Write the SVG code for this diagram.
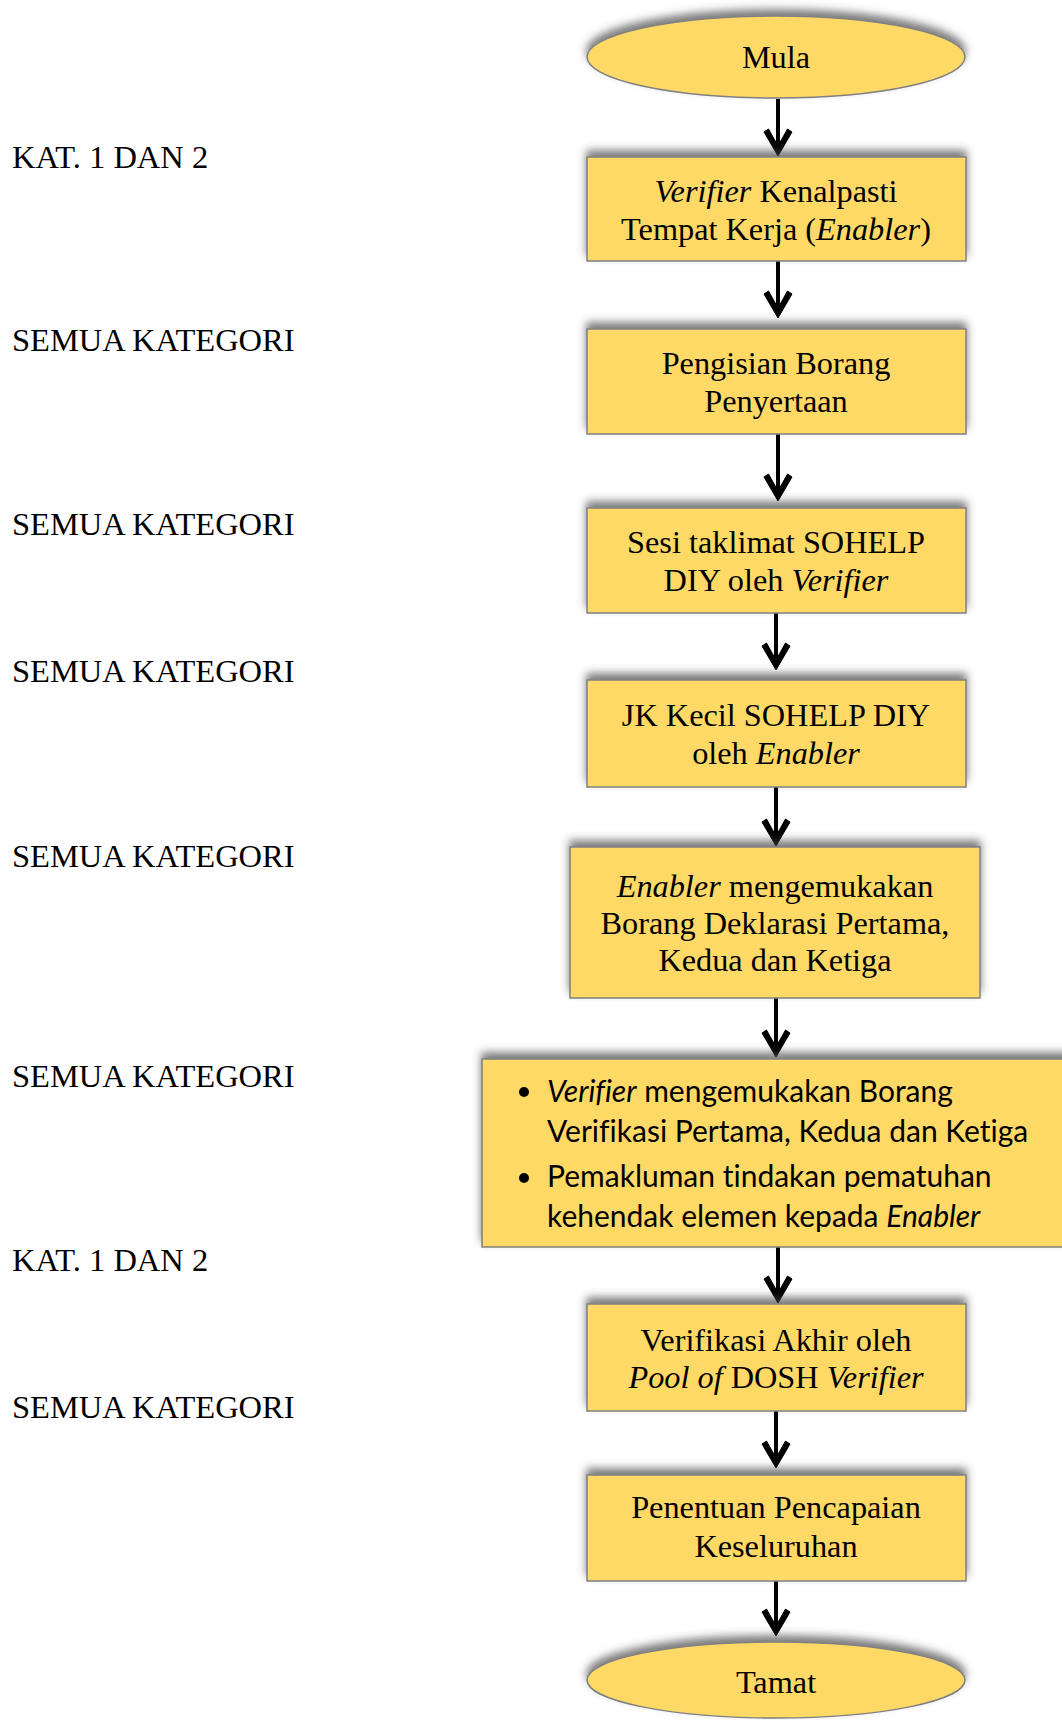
<svg xmlns="http://www.w3.org/2000/svg" width="1062" height="1720" viewBox="0 0 1062 1720">
<style>
.box{fill:#FFD966;stroke:#808080;stroke-width:1.5;filter:url(#sh)}
.t{font-family:"Liberation Serif","Times New Roman",serif;font-size:32.3px;fill:#000;text-anchor:middle;font-variant-ligatures:none}
.lbl{font-family:"Liberation Serif","Times New Roman",serif;font-size:32.5px;fill:#000}
.s{font-family:Lato,"Open Sans",sans-serif;font-size:30px;fill:#000;font-variant-ligatures:none}
.i{font-style:italic}
.c{stroke:#000;stroke-width:4;fill:none;marker-end:url(#ah)}
</style>
<defs>
<filter id="sh" x="-10%" y="-30%" width="120%" height="160%">
<feGaussianBlur in="SourceAlpha" stdDeviation="4"/>
<feOffset dx="0" dy="-6" result="b"/>
<feFlood flood-color="#404040" flood-opacity="0.7"/>
<feComposite in2="b" operator="in"/>
<feMerge><feMergeNode/><feMergeNode in="SourceGraphic"/></feMerge>
</filter>
<marker id="ah" markerUnits="userSpaceOnUse" markerWidth="40" markerHeight="40" refX="0" refY="0" orient="auto" overflow="visible">
<path d="M6,0 L-18,-14 L-21,-9.5 L-4,0 L-21,9.5 L-18,14 Z" fill="#000" stroke="#000" stroke-width="1" stroke-linejoin="round"/>
</marker>
</defs>
<rect width="1062" height="1720" fill="#fff"/>

<g id="labels">
<text class="lbl" x="12" y="168">KAT. 1 DAN 2</text>
<text class="lbl" x="12" y="351">SEMUA KATEGORI</text>
<text class="lbl" x="12" y="535">SEMUA KATEGORI</text>
<text class="lbl" x="12" y="682">SEMUA KATEGORI</text>
<text class="lbl" x="12" y="867">SEMUA KATEGORI</text>
<text class="lbl" x="12" y="1087">SEMUA KATEGORI</text>
<text class="lbl" x="12" y="1271">KAT. 1 DAN 2</text>
<text class="lbl" x="12" y="1418">SEMUA KATEGORI</text>
</g>

<g id="connectors">
<line class="c" x1="778" y1="99" x2="778" y2="150"/>
<line class="c" x1="778" y1="261" x2="778" y2="312"/>
<line class="c" x1="778" y1="434" x2="778" y2="495"/>
<line class="c" x1="776" y1="613" x2="776" y2="664"/>
<line class="c" x1="776" y1="787" x2="776" y2="840"/>
<line class="c" x1="776" y1="998" x2="776" y2="1051"/>
<line class="c" x1="778" y1="1247" x2="778" y2="1297"/>
<line class="c" x1="776" y1="1411" x2="776" y2="1462"/>
<line class="c" x1="776" y1="1581" x2="776" y2="1630"/>
</g>

<g id="mula">
<ellipse class="box" cx="776" cy="57" rx="189" ry="41"/>
<text class="t" x="776" y="68">Mula</text>
</g>

<g id="n1">
<rect class="box" x="587" y="157" width="379" height="104"/>
<text class="t" x="776" y="202"><tspan class="i">Verifier</tspan> Kenalpasti</text>
<text class="t" x="776" y="240">Tempat Kerja (<tspan class="i">Enabler</tspan>)</text>
</g>

<g id="n2">
<rect class="box" x="587" y="329" width="379" height="105"/>
<text class="t" x="776" y="374">Pengisian Borang</text>
<text class="t" x="776" y="412">Penyertaan</text>
</g>

<g id="n3">
<rect class="box" x="587" y="508" width="379" height="105"/>
<text class="t" x="776" y="553">Sesi taklimat SOHELP</text>
<text class="t" x="776" y="591">DIY oleh <tspan class="i">Verifier</tspan></text>
</g>

<g id="n4">
<rect class="box" x="587" y="680" width="379" height="107"/>
<text class="t" x="776" y="726">JK Kecil SOHELP DIY</text>
<text class="t" x="776" y="764">oleh <tspan class="i">Enabler</tspan></text>
</g>

<g id="n5">
<rect class="box" x="570" y="847" width="410" height="151"/>
<text class="t" x="775" y="897"><tspan class="i">Enabler</tspan> mengemukakan</text>
<text class="t" x="775" y="934">Borang Deklarasi Pertama,</text>
<text class="t" x="775" y="971">Kedua dan Ketiga</text>
</g>

<g id="n6">
<rect class="box" x="482" y="1059" width="600" height="188"/>
<circle cx="524" cy="1092" r="5"/>
<circle cx="524" cy="1178" r="5"/>
<text class="s" x="547" y="1102"><tspan class="i">Verifier</tspan> mengemukakan Borang</text>
<text class="s" x="547" y="1142">Verifikasi Pertama, Kedua dan Ketiga</text>
<text class="s" x="547" y="1187">Pemakluman tindakan pematuhan</text>
<text class="s" x="547" y="1227">kehendak elemen kepada <tspan class="i">Enabler</tspan></text>
</g>

<g id="n7">
<rect class="box" x="587" y="1304" width="379" height="107"/>
<text class="t" x="776" y="1351">Verifikasi Akhir oleh</text>
<text class="t" x="776" y="1388"><tspan class="i">Pool of</tspan> DOSH <tspan class="i">Verifier</tspan></text>
</g>

<g id="n8">
<rect class="box" x="587" y="1475" width="379" height="106"/>
<text class="t" x="776" y="1518">Penentuan Pencapaian</text>
<text class="t" x="776" y="1557">Keseluruhan</text>
</g>

<g id="tamat">
<ellipse class="box" cx="776" cy="1680" rx="189" ry="38"/>
<text class="t" x="776" y="1693">Tamat</text>
</g>
</svg>
